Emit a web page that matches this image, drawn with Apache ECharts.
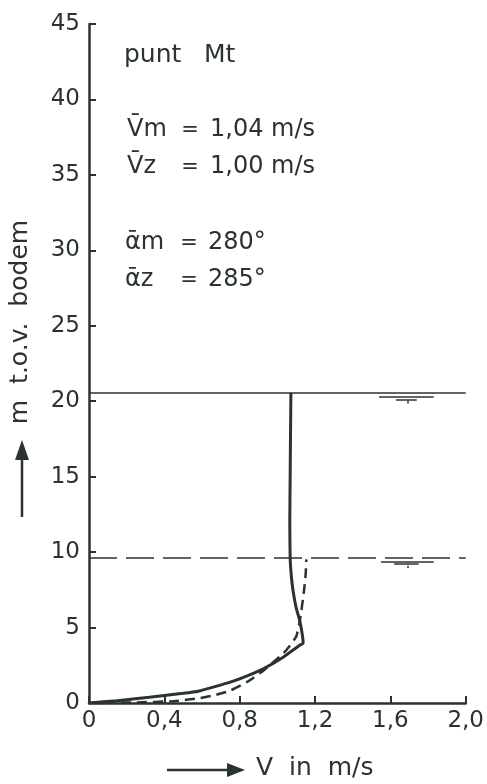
<!DOCTYPE html>
<html>
<head>
<meta charset="utf-8">
<script src="https://cdn.jsdelivr.net/npm/echarts@6/dist/echarts.min.js"></script>
<style>
  html, body { margin: 0; padding: 0; background: #fff; }
  #chart { width: 487px; height: 784px; }
</style>
</head>
<body>
<div id="chart"></div>
<script>
// gemeten snelheidsprofiel (Vm), doorgetrokken lijn
var vmSpeed = [0, 0.15, 0.32, 0.50, 0.58, 0.66, 0.75, 0.84, 0.93, 1.035, 1.12, 1.137, 1.12, 1.10, 1.085, 1.075, 1.068, 1.066, 1.068, 1.07, 1.072];
var vmDepth = [0, 0.15, 0.38, 0.64, 0.78, 1.05, 1.38, 1.8, 2.3, 3.07, 3.84, 3.96, 5.4, 6.3, 7.3, 8.3, 9.6, 12, 15, 18, 20.56];
// berekend profiel (Vz), gestreepte lijn
var vzSpeed = [0, 0.25, 0.45, 0.58, 0.66, 0.75, 0.84, 0.93, 1.04, 1.10, 1.12, 1.14, 1.15, 1.154];
var vzDepth = [0, 0.04, 0.12, 0.31, 0.5, 0.82, 1.4, 2.19, 3.4, 4.4, 5.5, 7.27, 8.5, 9.52];
// waterstanden
var levelM = 20.56;
var levelZ = 9.6;
// waterstand-tekentjes (v-van, v-tot, hoogte)
var levelMarkM = [[1.54, 1.83, 20.3], [1.63, 1.74, 20.1], [1.69, 1.69, 20.05, 19.85]];
var levelMarkZ = [[1.55, 1.83, 9.35], [1.62, 1.75, 9.2], [1.69, 1.69, 9.1, 8.95]];

var xTicks = { min: 0, max: 2, interval: 0.4 };
var yTicks = { min: 0, max: 45, interval: 5 };

var ink = '#2a332f';
var font = 'DejaVu Sans';

function pairs(xs, ys) {
  return xs.map(function (x, i) { return [x, ys[i]]; });
}
function markSegs(arr) {
  return arr.map(function (m) {
    var y2 = m.length > 3 ? m[3] : m[2];
    return { coords: [[m[0], m[2]], [m[1], y2]] };
  });
}

var myChart = echarts.init(document.getElementById('chart'));

function txt(x, y, s, size, align) {
  return {
    type: 'text', x: x, y: y,
    style: { text: s, fill: ink, font: (size || 24) + 'px "' + font + '"', textAlign: align || 'left', textVerticalAlign: 'middle' }
  };
}

var option = {
  backgroundColor: '#fff',
  animation: false,
  grid: { left: 89, right: 18, top: 24, bottom: 81 },
  xAxis: {
    type: 'value',
    min: xTicks.min, max: xTicks.max, interval: xTicks.interval,
    splitLine: { show: false },
    axisLine: { lineStyle: { color: ink, width: 2.5 } },
    axisTick: { inside: true, length: 7, lineStyle: { color: ink, width: 2 } },
    axisLabel: {
      color: ink, fontFamily: font, fontSize: 23, margin: 7,
      formatter: function (v) { return v === 0 ? '0' : v.toFixed(1).replace('.', ','); }
    }
  },
  yAxis: {
    type: 'value',
    min: yTicks.min, max: yTicks.max, interval: yTicks.interval,
    splitLine: { show: false },
    axisLine: { lineStyle: { color: ink, width: 2.5 } },
    axisTick: { inside: true, length: 7, lineStyle: { color: ink, width: 2 } },
    axisLabel: { color: ink, fontFamily: font, fontSize: 23, margin: 9 }
  },
  series: [
    {
      name: 'Vm',
      type: 'line',
      data: pairs(vmSpeed, vmDepth),
      showSymbol: false,
      smooth: 0.15,
      lineStyle: { color: ink, width: 3 },
      markLine: {
        silent: true, symbol: 'none', label: { show: false },
        lineStyle: { color: ink, width: 1.5, type: 'solid' },
        data: [{ yAxis: levelM }]
      }
    },
    {
      name: 'Vz',
      type: 'line',
      data: pairs(vzSpeed, vzDepth),
      showSymbol: false,
      smooth: 0.15,
      lineStyle: { color: ink, width: 2.5, type: [10, 6] },
      markLine: {
        silent: true, symbol: 'none', label: { show: false },
        lineStyle: { color: ink, width: 1.5, type: [28, 9] },
        data: [{ yAxis: levelZ }]
      }
    },
    {
      type: 'lines',
      coordinateSystem: 'cartesian2d',
      data: markSegs(levelMarkM).concat(markSegs(levelMarkZ)),
      lineStyle: { color: ink, width: 1.5, opacity: 1 },
      silent: true
    }
  ],
  graphic: [
    txt(124, 55, 'punt', 25), txt(204, 55, 'Mt', 25),
    txt(127, 130, 'V\u0304m'), txt(190, 131, '=', 21, 'center'), txt(210, 130, '1,04 m/s'),
    txt(127, 167, 'V\u0304z'), txt(190, 168, '=', 21, 'center'), txt(210, 167, '1,00 m/s'),
    txt(125, 243, '\u1FB1m'), txt(189, 244, '=', 21, 'center'), txt(208, 243, '280°'),
    txt(125, 280, '\u1FB1z'), txt(189, 281, '=', 21, 'center'), txt(208, 280, '285°'),
    // as-titel verticaal
    {
      type: 'text', x: 20, y: 322, rotation: Math.PI / 2,
      style: { text: 'm  t.o.v.  bodem', fill: ink, font: '25px "' + font + '"', textAlign: 'center', textVerticalAlign: 'middle' }
    },
    { type: 'polyline', shape: { points: [[22, 517], [22, 455]] }, style: { stroke: ink, lineWidth: 2.5 } },
    { type: 'polygon', shape: { points: [[22, 440], [15, 460], [29, 460]] }, style: { fill: ink } },
    // as-titel horizontaal
    { type: 'polyline', shape: { points: [[167, 770], [230, 770]] }, style: { stroke: ink, lineWidth: 2.5 } },
    { type: 'polygon', shape: { points: [[245, 770], [227, 763], [227, 777]] }, style: { fill: ink } },
    txt(256, 768, 'V  in  m/s', 25)
  ]
};
myChart.setOption(option);
</script>
</body>
</html>
